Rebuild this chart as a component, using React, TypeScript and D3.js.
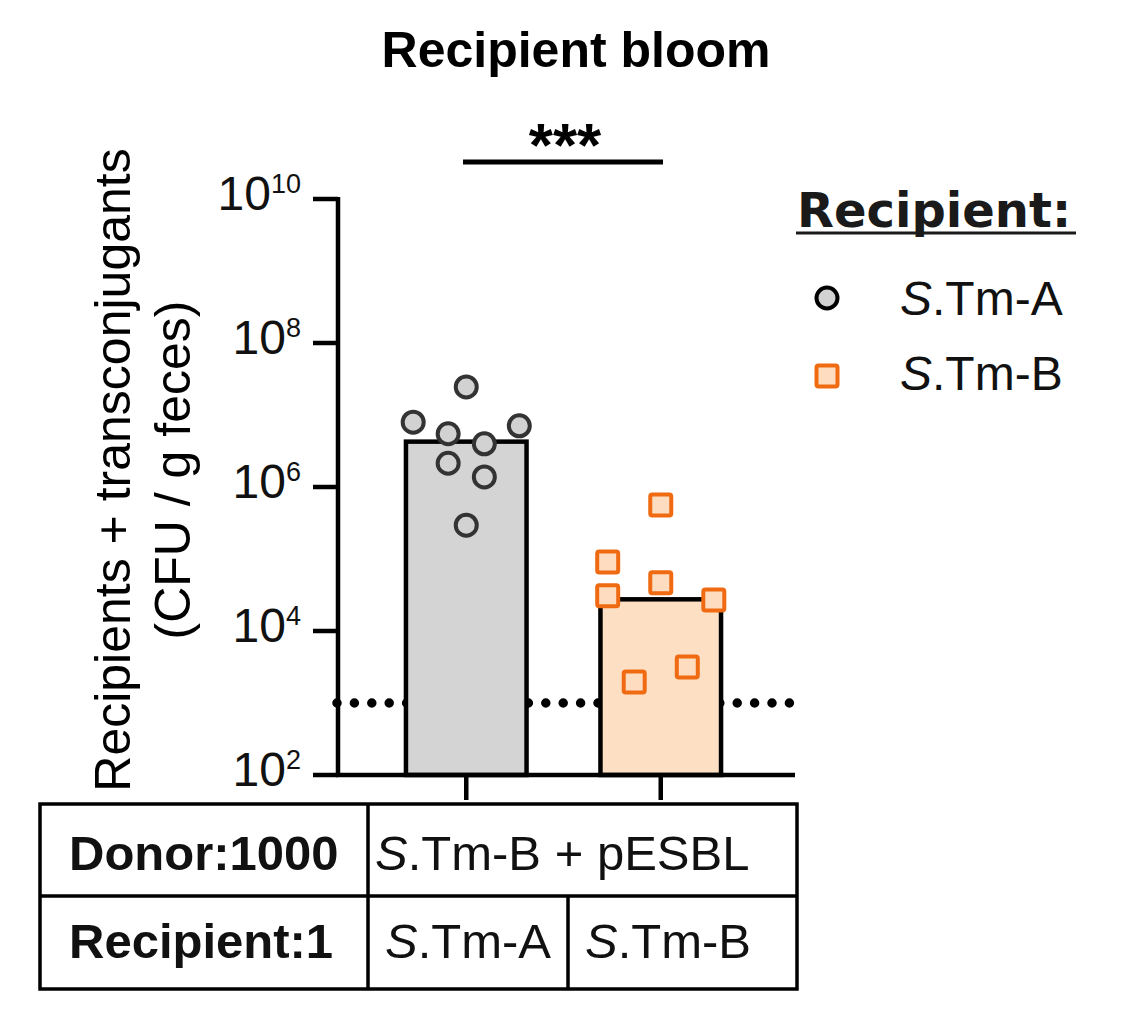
import React from 'react';
import * as d3 from 'd3';

// groups and per-group points (log10 CFU/g), with horizontal jitter in band-width units
const groups = ['S.Tm-A', 'S.Tm-B'];
const barLog = [6.63, 4.44];
const pointsA = [7.39, 6.9, 6.74, 6.6, 6.85, 6.33, 6.14, 5.47];
const jitterA = [0, -0.44, -0.15, 0.15, 0.44, -0.15, 0.15, 0];
const pointsB = [5.75, 4.96, 4.67, 4.49, 4.43, 3.5, 3.29];
const jitterB = [0, -0.44, 0, -0.44, 0.44, 0.22, -0.22];
const detectionLimit = 1e3;
const yTicks = [2, 4, 6, 8, 10];

const SANS = '"Liberation Sans", Arial, Helvetica, sans-serif';
const ORANGE = '#f06a12';

const App: React.FC = () => {
  const width = 1142;
  const height = 1029;

  const y = d3.scaleLog().domain([1e2, 1e10]).range([775, 199]);
  const x = d3.scaleBand<string>().domain(groups).range([369, 758]).paddingInner(0.38).paddingOuter(0.19);
  const bw = x.bandwidth();
  const cx = (g: string) => (x(g) as number) + bw / 2;

  const sq = 21;

  return (
    <svg width={width} height={height} style={{ position: 'absolute', left: 0, top: 0, background: '#fff' }} fontFamily={SANS}>
      <text x={576} y={67} textAnchor="middle" fontSize={50} fontWeight="bold">Recipient bloom</text>

      {/* significance */}
      <line x1={463} x2={663} y1={162} y2={162} stroke="#000" strokeWidth={5} />
      <text x={565} y={166} textAnchor="middle" fontSize={62} fontWeight="bold">***</text>

      {/* y label */}
      <g transform="translate(130,470) rotate(-90)">
        <text textAnchor="middle" fontSize={50}>Recipients + transconjugants</text>
      </g>
      <g transform="translate(190,470) rotate(-90)">
        <text textAnchor="middle" fontSize={50}>(CFU / g feces)</text>
      </g>

      {/* detection limit */}
      <line x1={337} x2={795} y1={y(detectionLimit)} y2={y(detectionLimit)} stroke="#000" strokeWidth={9.5}
        strokeLinecap="round" strokeDasharray="0 17.4" />

      {/* bars */}
      {groups.map((g, i) => (
        <rect key={g} x={x(g)} y={y(Math.pow(10, barLog[i]))} width={bw} height={775 - y(Math.pow(10, barLog[i]))}
          fill={i === 0 ? '#d4d4d4' : '#fde0c4'} stroke="#000" strokeWidth={4.5} />
      ))}

      {/* points */}
      {pointsA.map((v, i) => (
        <circle key={'a' + i} cx={cx(groups[0]) + jitterA[i] * bw} cy={y(Math.pow(10, v))} r={10.5}
          fill="#d2d2d2" stroke="#333" strokeWidth={4} />
      ))}
      {pointsB.map((v, i) => (
        <rect key={'b' + i} x={cx(groups[1]) + jitterB[i] * bw - sq / 2} y={y(Math.pow(10, v)) - sq / 2}
          width={sq} height={sq} rx={2} fill="#fddcc0" stroke={ORANGE} strokeWidth={4} />
      ))}

      {/* axes */}
      <line x1={338} x2={338} y1={197} y2={777} stroke="#000" strokeWidth={4.5} />
      <line x1={336} x2={795} y1={775} y2={775} stroke="#000" strokeWidth={4.5} />
      {yTicks.map(t => (
        <g key={t}>
          <line x1={313} x2={338} y1={y(Math.pow(10, t))} y2={y(Math.pow(10, t))} stroke="#000" strokeWidth={4.5} />
          <text x={301} y={y(Math.pow(10, t)) + 11} textAnchor="end" fill="#111">
            <tspan fontSize={48}>10</tspan>
            <tspan fontSize={27} dy={-17}>{t}</tspan>
          </text>
        </g>
      ))}
      {groups.map(g => (
        <line key={g} x1={cx(g)} x2={cx(g)} y1={775} y2={800} stroke="#000" strokeWidth={4.5} />
      ))}

      {/* table */}
      <g stroke="#000" strokeWidth={3.5} fill="none">
        <rect x={40} y={804} width={757} height={185} />
        <line x1={40} x2={797} y1={896} y2={896} />
        <line x1={368} x2={368} y1={804} y2={989} />
        <line x1={568} x2={568} y1={896} y2={989} />
      </g>
      <text x={69} y={870} fontSize={49} fontWeight="bold" fill="#111">Donor:1000</text>
      <text x={69} y={958} fontSize={49} fontWeight="bold" fill="#111">Recipient:1</text>
      <text x={375} y={870} fontSize={49} fill="#111"><tspan fontStyle="italic">S</tspan>.Tm-B + pESBL</text>
      <text x={468} y={958} fontSize={49} textAnchor="middle" fill="#111"><tspan fontStyle="italic">S</tspan>.Tm-A</text>
      <text x={668} y={958} fontSize={49} textAnchor="middle" fill="#111"><tspan fontStyle="italic">S</tspan>.Tm-B</text>

      {/* legend */}
      <text x={797} y={227} fontSize={48} fontWeight="bold" fontFamily='"DejaVu Sans", sans-serif' fill="#1a1a1a">Recipient:</text>
      <line x1={796} x2={1076} y1={233} y2={233} stroke="#1a1a1a" strokeWidth={3} />
      <circle cx={827} cy={298} r={10.5} fill="#d2d2d2" stroke="#000" strokeWidth={4} />
      <text x={900} y={315} fontSize={48} fill="#111"><tspan fontStyle="italic">S</tspan>.Tm-A</text>
      <rect x={827 - sq / 2} y={376 - sq / 2} width={sq} height={sq} rx={2} fill="#fddcc0" stroke={ORANGE} strokeWidth={4} />
      <text x={900} y={390} fontSize={48} fill="#111"><tspan fontStyle="italic">S</tspan>.Tm-B</text>
    </svg>
  );
};

export default App;
